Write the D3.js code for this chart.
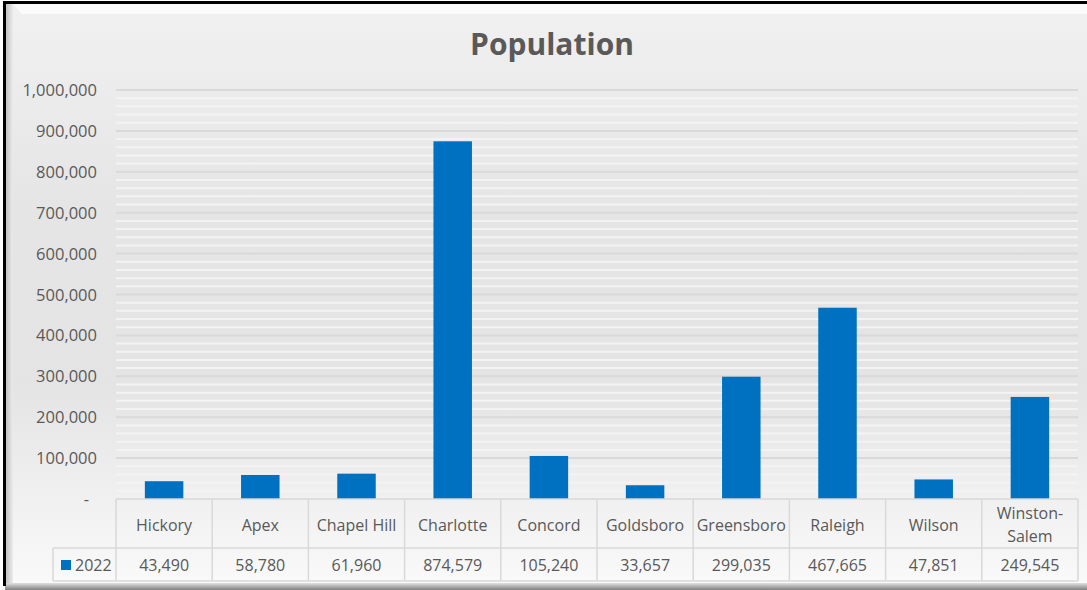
<!DOCTYPE html>
<html lang="en">
<head>
  <meta charset="utf-8">
  <title>Population</title>
  <script src="https://d3js.org/d3.v7.min.js"></script>
  <style>
    body { margin: 0; background: #fff; }
    text { font-family: "Open Sans", "Noto Sans", sans-serif; fill: #595959; }
  </style>
</head>
<body>
<script>
// data
var cities = ["Hickory", "Apex", "Chapel Hill", "Charlotte", "Concord", "Goldsboro",
              "Greensboro", "Raleigh", "Wilson", "Winston-Salem"];
var pop2022 = [43490, 58780, 61960, 874579, 105240, 33657, 299035, 467665, 47851, 249545];
var seriesName = "2022";
var yTicks = [0, 100000, 200000, 300000, 400000, 500000, 600000, 700000, 800000, 900000, 1000000];

var W = 1087, H = 590;
var plotLeft = 116, plotRight = 1078, plotTop = 90, plotBottom = 499;

var svg = d3.select("body").append("svg")
    .attr("width", W).attr("height", H);

var defs = svg.append("defs");
var bg = defs.append("linearGradient").attr("id", "bg")
    .attr("x1", 0).attr("y1", 0).attr("x2", 0).attr("y2", 1);
bg.append("stop").attr("offset", "0%").attr("stop-color", "#f1f1f1");
bg.append("stop").attr("offset", "35%").attr("stop-color", "#e5e5e5");
bg.append("stop").attr("offset", "65%").attr("stop-color", "#e4e4e4");
bg.append("stop").attr("offset", "100%").attr("stop-color", "#fafafa");

var lg = defs.append("linearGradient").attr("id", "lside")
    .attr("x1", 0).attr("y1", 0).attr("x2", 1).attr("y2", 0);
lg.append("stop").attr("offset", "0%").attr("stop-color", "#bdbdbd");
lg.append("stop").attr("offset", "100%").attr("stop-color", "#ececec");

var bgShadow = defs.append("linearGradient").attr("id", "bshade")
    .attr("x1", 0).attr("y1", 0).attr("x2", 0).attr("y2", 1);
bgShadow.append("stop").attr("offset", "0%").attr("stop-color", "#e0e0e0");
bgShadow.append("stop").attr("offset", "100%").attr("stop-color", "#808080");

// frame + bevel
svg.append("rect").attr("x", 0).attr("y", 0).attr("width", W).attr("height", H).attr("fill", "#fff");
svg.append("rect").attr("x", 5).attr("y", 2).attr("width", W).attr("height", H - 2).attr("fill", "url(#bg)");
svg.append("rect").attr("x", 5).attr("y", 2).attr("width", 8).attr("height", H - 6).attr("fill", "url(#lside)");
svg.append("path").attr("d", "M13,4 L" + W + ",4 L" + W + ",14 L22,14 Z").attr("fill", "#fbfbfb");
svg.append("rect").attr("x", 5).attr("y", 583).attr("width", W).attr("height", 7).attr("fill", "url(#bshade)");
svg.append("line").attr("x1", 3).attr("x2", W).attr("y1", 2.5).attr("y2", 2.5)
    .attr("stroke", "#000").attr("stroke-width", 3);
svg.append("line").attr("x1", 4.5).attr("x2", 4.5).attr("y1", 1).attr("y2", 586)
    .attr("stroke", "#000").attr("stroke-width", 3);

// title
svg.append("text").attr("x", 552).attr("y", 55)
    .attr("text-anchor", "middle")
    .style("font-size", "30px").style("font-weight", "bold")
    .text("Population");

// scales
var x = d3.scaleBand().domain(cities).range([plotLeft, plotRight]).paddingInner(0.6).paddingOuter(0.3);
var col = d3.scaleBand().domain(cities).range([plotLeft, plotRight]);
var y = d3.scaleLinear().domain([0, 1000000]).range([plotBottom, plotTop]);

// gridlines
var minor = d3.range(20000, 1000001, 20000).filter(function(v) { return v % 100000 !== 0; });
svg.append("g").selectAll("line").data(minor).join("line")
    .attr("x1", plotLeft).attr("x2", plotRight)
    .attr("y1", function(d) { return y(d); }).attr("y2", function(d) { return y(d); })
    .attr("stroke", "#f3f3f3").attr("stroke-width", 2);
svg.append("g").selectAll("line").data(yTicks.slice(1)).join("line")
    .attr("x1", plotLeft).attr("x2", plotRight)
    .attr("y1", function(d) { return y(d); }).attr("y2", function(d) { return y(d); })
    .attr("stroke", "#d9d9d9").attr("stroke-width", 2);

// y axis labels
var fmt = d3.format(",");
svg.append("g").selectAll("text").data(yTicks).join("text")
    .attr("x", 97).attr("y", function(d) { return y(d) + 6; })
    .attr("text-anchor", "end")
    .style("font-size", "16.5px")
    .text(function(d) { return d === 0 ? "-" : fmt(d); })
    .attr("dx", function(d) { return d === 0 ? -8 : 0; });

// bars
svg.append("g").selectAll("rect").data(pop2022).join("rect")
    .attr("x", function(d, i) { return x(cities[i]); })
    .attr("width", x.bandwidth())
    .attr("y", function(d) { return y(d); })
    .attr("height", function(d) { return y(0) - y(d); })
    .attr("fill", "#0070c0");

// data table
var rowMid = 548, rowEnd = 581;
var tbl = svg.append("g").attr("stroke", "#d9d9d9").attr("stroke-width", 1.5).attr("fill", "none");
tbl.append("line").attr("x1", plotLeft).attr("x2", plotRight).attr("y1", plotBottom).attr("y2", plotBottom);
tbl.append("line").attr("x1", 53).attr("x2", plotRight).attr("y1", rowMid).attr("y2", rowMid);
tbl.append("line").attr("x1", 53).attr("x2", plotRight).attr("y1", rowEnd).attr("y2", rowEnd);
tbl.append("line").attr("x1", 53).attr("x2", 53).attr("y1", rowMid).attr("y2", rowEnd);
tbl.selectAll("line.v").data(cities.concat(["end"])).join("line")
    .attr("class", "v")
    .attr("x1", function(d, i) { return i < cities.length ? col(d) : plotRight; })
    .attr("x2", function(d, i) { return i < cities.length ? col(d) : plotRight; })
    .attr("y1", plotBottom).attr("y2", rowEnd);

// category labels
svg.append("g").selectAll("text").data(cities).join("text")
    .attr("text-anchor", "middle")
    .attr("x", function(d) { return col(d) + col.bandwidth() / 2; })
    .attr("y", 531)
    .style("font-size", "16px")
    .each(function(d) {
      var t = d3.select(this);
      var parts = d.indexOf("-") > 0 ? [d.split("-")[0] + "-", d.split("-")[1]] : [d];
      if (parts.length > 1) {
        t.attr("y", 519);
        parts.forEach(function(p, k) {
          t.append("tspan").attr("x", col(d) + col.bandwidth() / 2)
            .attr("dy", k === 0 ? 0 : 23).text(p);
        });
      } else {
        t.text(d);
      }
    });

// values row
svg.append("g").selectAll("text").data(pop2022).join("text")
    .attr("text-anchor", "middle")
    .attr("x", function(d, i) { return col(cities[i]) + col.bandwidth() / 2; })
    .attr("y", 571)
    .style("font-size", "16px")
    .text(function(d) { return fmt(d); });

// legend key
svg.append("rect").attr("x", 61).attr("y", 560).attr("width", 10).attr("height", 10).attr("fill", "#0070c0");
svg.append("text").attr("x", 75).attr("y", 571).style("font-size", "16px").text(seriesName);
</script>
</body>
</html>
